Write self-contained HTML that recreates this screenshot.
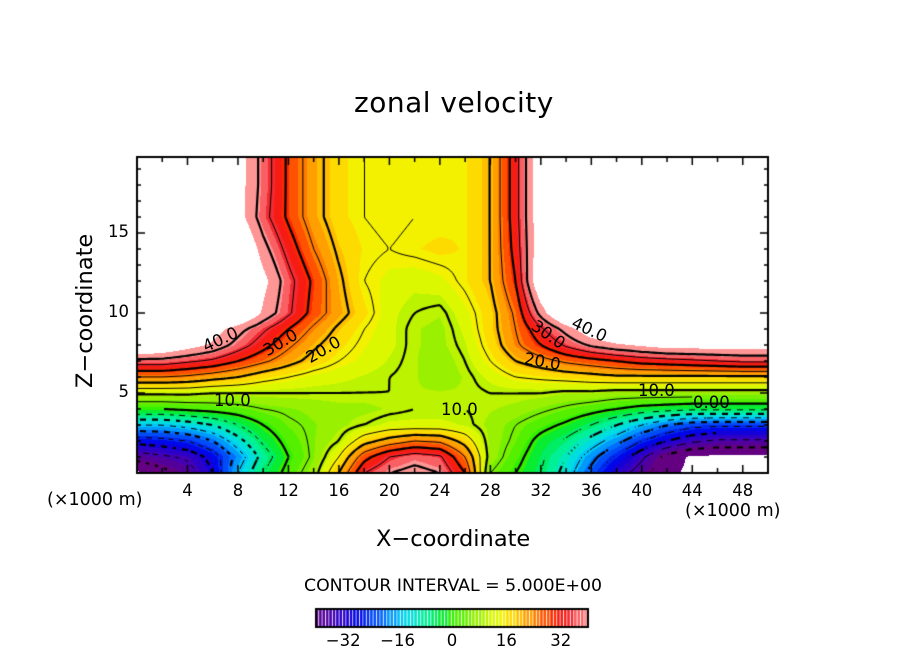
<!DOCTYPE html>
<html><head><meta charset="utf-8"><style>
body{margin:0;background:#fff;width:904px;height:654px;overflow:hidden;position:relative;font-family:"DejaVu Sans","Liberation Sans",sans-serif;}
.t{position:absolute;color:#000;white-space:nowrap;}
canvas{position:absolute;left:0;top:0;}
</style></head><body>
<canvas id="c" width="904" height="654"></canvas>
<div class="t" style="left:354px;top:86px;font-size:28px;letter-spacing:0.5px;">zonal velocity</div>
<div class="t" style="left:376px;top:526px;font-size:22.5px;">X−coordinate</div>
<div class="t" style="left:10px;top:300px;font-size:22.5px;transform:rotate(-90deg);transform-origin:center;width:150px;text-align:center;">Z−coordinate</div>
<div class="t" style="left:47px;top:490px;font-size:17.5px;">(×1000 m)</div>
<div class="t" style="left:685px;top:501px;font-size:17.5px;">(×1000 m)</div>
<div class="t" style="left:304px;top:576px;font-size:17.3px;">CONTOUR INTERVAL = 5.000E+00</div>
<div id="lbls"></div>
<script>
// data
const xs=[0,2,4,6,8,10,12,14,16,18,20,22,24,26,28,30,32,34,36,38,40,42,44,46,48,50];
const zs=[0,1,2,3,4,5,6,7,8,9,10,12,14,16,18,20];
const U=[
[-46,-42,-38,-30,-15,-5,2,8,20,35,40,42,40,30,5,0,-5,-12,-22,-32,-38,-44,-46,-46,-46,-46],
[-38,-36,-34,-28,-18,-8,0,6,15,28,35,38,36,25,8,2,-4,-10,-18,-26,-34,-42,-46,-46,-46,-46],
[-28,-27,-25,-20,-12,-4,2,6,10,18,22,25,24,18,8,4,-2,-6,-12,-18,-25,-30,-34,-36,-36,-36],
[-15,-15,-13,-10,-5,0,4,6,8,10,12,12,12,11,8,5,2,-1,-5,-10,-15,-20,-23,-24,-24,-24],
[0,0,1,2,3,5,6,7,8,8,9,10,10,10,9,8,6,4,2,0,-2,-3,-4,-4,-4,-4],
[11,11,11,10,10,10,10,10,10,10,10,9,9,9,10,10,10,9,9,8,8,8,8,8,8,8],
[25,25,24,22,20,17,15,13,12,11,10,9,7,9,12,15,16,17,18,19,19,19,19,19,19,19],
[38,38,36,34,30,26,22,18,15,13,11,9,7,10,15,20,23,26,28,30,32,33,34,35,36,36],
[55,52,48,44,38,32,26,21,17,14,12,9,8,11,17,24,30,36,41,44,46,48,48,48,48,48],
[60,58,55,48,42,36,30,24,19,15,12,9,8,12,18,25,34,42,50,55,55,55,55,55,55,55],
[60,60,60,60,55,44,36,28,22,17,12,10,9,13,18,26,42,55,60,60,60,60,60,60,60,60],
[60,60,60,60,58,47,37,29,21,15,13,12,13,16,20,30,52,60,60,60,60,60,60,60,60,60],
[60,60,60,60,55,42,33,25,19,16,15,16,17,16,20,32,50,60,60,60,60,60,60,60,60,60],
[60,60,60,60,48,37,29,22,17,15,14,15,15,16,20,33,50,60,60,60,60,60,60,60,60,60],
[60,60,60,60,48,38,29,22,17,15,14,15,15,16,20,33,50,60,60,60,60,60,60,60,60,60],
[60,60,60,60,48,38,29,22,17,15,14,15,15,16,20,33,50,60,60,60,60,60,60,60,60,60]];
const xTicks=[4,8,12,16,20,24,28,32,36,40,44,48];
const zTicks=[5,10,15];
const cbTicks=[-32,-16,0,16,32];
const L=137,R=768,T=157,B=473;
const X=x=>L+x*(R-L)/50, Z=z=>B-z*16;
function idx(a,v){let i=0;while(i<a.length-2&&v>a[i+1])i++;return i;}
function val(x,z){const i=idx(xs,x),j=idx(zs,z);
 const tx=(x-xs[i])/(xs[i+1]-xs[i]),tz=(z-zs[j])/(zs[j+1]-zs[j]);
 const a=U[j][i],b=U[j][i+1],c=U[j+1][i],d=U[j+1][i+1];
 return (a*(1-tx)+b*tx)*(1-tz)+(c*(1-tx)+d*tx)*tz;}
const stops=[[-40,[100,0,130]],[-34,[60,0,190]],[-28,[0,0,230]],[-20,[0,110,255]],[-14,[0,215,245]],[-8,[0,240,160]],[-3,[0,235,60]],[0,[50,240,0]],[8,[160,240,0]],[14,[240,250,0]],[18,[255,215,0]],[24,[255,140,0]],[30,[255,40,0]],[34,[240,20,30]],[40,[255,150,150]]];
function col(v){v=Math.round(v/2.5)*2.5;if(v<=stops[0][0])return stops[0][1];
 for(let k=0;k<stops.length-1;k++){if(v<=stops[k+1][0]){const t=(v-stops[k][0])/(stops[k+1][0]-stops[k][0]);return stops[k][1].map((c,n)=>Math.round(c+(stops[k+1][1][n]-c)*t));}}
 return stops[stops.length-1][1];}
const cv=document.getElementById('c'),g=cv.getContext('2d');
const img=g.createImageData(R-L,B-T);
for(let py=0;py<B-T;py++)for(let px=0;px<R-L;px++){
 const x=(px+0.5)*50/(R-L),z=(B-T-py-0.5)/16;const v=val(x,z);const o=(py*(R-L)+px)*4;
 let c=(v>=45||v<=-45)?[255,255,255]:col(v);img.data[o]=c[0];img.data[o+1]=c[1];img.data[o+2]=c[2];img.data[o+3]=255;}
g.putImageData(img,L,T);
// contours (marching squares on fine grid)
const st=3,nx=Math.ceil((R-L)/st),nz=Math.ceil((B-T)/st);
const F=[];for(let j=0;j<=nz;j++){F[j]=[];for(let i=0;i<=nx;i++){F[j][i]=val(Math.min(50,i*st*50/(R-L)),Math.max(0,(B-T-j*st)/16));}}
g.save();g.beginPath();g.rect(L,T,R-L,B-T);g.clip();
for(let lev=-40;lev<=40;lev+=5){
 g.beginPath();g.lineWidth=(lev%10===0)?2.2:1;g.strokeStyle='#000';
 for(let j=0;j<nz;j++)for(let i=0;i<nx;i++){
  const p=[[i,j,F[j][i]],[i+1,j,F[j][i+1]],[i+1,j+1,F[j+1][i+1]],[i,j+1,F[j+1][i]]];
  if(p.some(q=>q[2]>=45||q[2]<=-45))continue;
  const pts=[];for(let k=0;k<4;k++){const a=p[k],b=p[(k+1)%4];if((a[2]-lev)*(b[2]-lev)<0){const t=(lev-a[2])/(b[2]-a[2]);pts.push([L+(a[0]+(b[0]-a[0])*t)*st,T+(a[1]+(b[1]-a[1])*t)*st]);}}
  if(lev<0&&((i+j)%4>1))continue;
  for(let k=0;k+1<pts.length;k+=2){g.moveTo(pts[k][0],pts[k][1]);g.lineTo(pts[k+1][0],pts[k+1][1]);}
 }
 g.stroke();}
g.restore();
// frame & ticks
g.strokeStyle='#000';g.lineWidth=2;g.strokeRect(L,T,R-L,B-T);g.lineWidth=1.5;g.beginPath();
for(let x=2;x<50;x+=2){const l=x%4===0?8:5;g.moveTo(X(x),B);g.lineTo(X(x),B-l);g.moveTo(X(x),T);g.lineTo(X(x),T+l);}
for(let z=1;z<20;z++){const l=z%5===0?8:4;g.moveTo(L,Z(z));g.lineTo(L+l,Z(z));g.moveTo(R,Z(z));g.lineTo(R-l,Z(z));}
g.stroke();
// colorbar
const cL=316,cR=588,cT=609,cB=627,CX=v=>cL+(v+40)*(cR-cL)/80;
for(let v=-40;v<40;v+=1){const c=col(v+0.5);g.fillStyle=`rgb(${c})`;g.fillRect(CX(v),cT,(cR-cL)/80+0.5,cB-cT);
 g.fillStyle='#fff';g.fillRect(CX(v)+2.3,cT,0.9,cB-cT);}
g.lineWidth=2;g.strokeRect(cL,cT,cR-cL,cB-cT);
const lb=document.getElementById('lbls');
function txt(s,x,y,fs,name,anchor){const d=document.createElement('div');d.className='t';d.textContent=s;d.style.fontSize=fs+'px';d.style.top=y+'px';
 d.style.left=x+'px';d.style.transform=anchor==='c'?'translateX(-50%)':(anchor==='r'?'translateX(-100%)':'none');
 
 
 lb.appendChild(d);return d;}
xTicks.forEach(v=>txt(String(v),X(v),481,16.5,'x-tick-label','c'));
zTicks.forEach(v=>txt(String(v),129,Z(v)-11,16.5,'y-tick-label','r'));
cbTicks.forEach(v=>txt(String(v).replace('-','−'),CX(v),631,16.5,'colorbar-tick-label','c'));
const cl=[["40.0",202,330,-25],["30.0",262,333,-30],["20.0",305,340,-30],["10.0",214,391,0],["10.0",441,400,0],["30.0",530,325,35],["40.0",571,320,25],["20.0",524,352,10],["10.0",638,381,0],["0.00",693,393,0]];
cl.forEach(c=>{const d=txt(c[0],c[1],c[2],16.5,'contour-label','l');d.style.transform='rotate('+c[3]+'deg)';});
</script>
</body></html>
